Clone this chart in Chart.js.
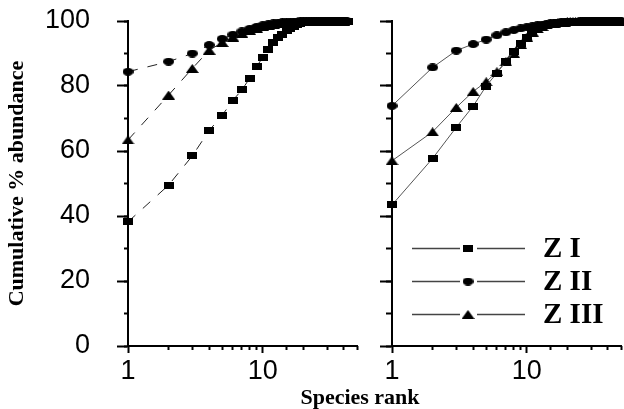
<!DOCTYPE html>
<html>
<head>
<meta charset="utf-8">
<script src="https://cdn.jsdelivr.net/npm/chart.js@4/dist/chart.umd.min.js"></script>
<style>
  html, body { margin: 0; padding: 0; background: #fff; overflow: hidden; width: 624px; height: 409px; }
  #left { position: absolute; left: 0; top: 0; }
  #right { position: absolute; left: 360px; top: 0; }
  #xtitle { position: absolute; left: 260px; width: 200px; top: 386px; text-align: center;
            font: bold 22px "Liberation Serif", "Times New Roman", serif; line-height: 22px; color: #000; }
</style>
</head>
<body>
<canvas id="left" width="370" height="409"></canvas>
<canvas id="right" width="280" height="409"></canvas>
<div id="xtitle">Species rank</div>
<script>
// ---- data ----
const seriesNames = ['Z I', 'Z II', 'Z III'];
const xTickLabels = [1, 10];
const yAxisTitle = 'Cumulative % abundance';

// Left panel: cumulative % abundance by species rank (rank = position + 1)
const leftZI = [38.2,49.5,58.5,66.3,71.0,75.6,78.8,82.4,86.0,88.8,91.3,93.3,94.8,96.0,97.0,97.8,98.4,98.9,99.2,99.4,
                99.5,99.6,99.65,99.7,99.75,99.8,99.82,99.84,99.86,99.88,99.9,99.91,99.92,99.93,99.94,99.95,99.96,99.97,99.98,99.98,
                99.99,99.99,100];
const leftZII = [84.4,87.5,90.0,92.6,94.5,95.8,96.8,97.6,98.2,98.7,99.0,99.3,99.5,99.6,99.7,99.75,99.8,99.84,99.87,99.9,
                 99.92,99.93,99.94,99.95,99.96,99.97,99.97,99.98,99.98,99.99,99.99,99.99,100,100,100,100,100,100,100,100,
                 100,100];
const leftZIII = [63.4,77.2,85.4,91.0,93.4,95.0,96.2,97.1,97.8,98.3,98.7,99.0,99.2,99.4,99.5,99.6,99.68,99.74,99.8,99.84,
                  99.87,99.9,99.92,99.94,99.95,99.96,99.97,99.98,99.98,99.99,99.99,100,100,100,100,100,100,100,100,100];

// Right panel
const rightZI = [43.4,57.7,67.3,73.8,80.0,84.0,87.5,90.5,93.0,95.0,96.5,97.5,98.2,98.7,99.0,99.25,99.4,99.5,99.58,99.65,
                 99.7,99.74,99.78,99.8,99.83,99.85,99.87,99.89,99.9,99.91,99.92,99.93,99.94,99.95,99.96,99.96,99.97,99.97,99.98,99.98,
                 99.98,99.99,99.99,99.99,99.99,100,100,100,100,100];
const rightZII = [73.9,85.7,90.9,92.9,94.3,95.6,96.5,97.2,97.7,98.1,98.4,98.7,98.9,99.1,99.25,99.35,99.45,99.55,99.62,99.68,
                  99.73,99.77,99.8,99.83,99.86,99.88,99.9,99.92,99.93,99.94,99.95,99.96,99.97,99.97,99.98,99.98,99.99,99.99,99.99,100,
                  100,100,100,100,100,100,100,100,100,100];
const rightZIII = [57.0,65.9,73.4,78.3,81.3,84.4,87.4,90.0,92.8,95.0,96.6,97.6,98.3,98.8,99.1,99.35,99.5,99.6,99.68,99.74,
                   99.79,99.83,99.86,99.88,99.9,99.92,99.93,99.94,99.95,99.96,99.97,99.97,99.98,99.98,99.99,99.99,99.99,100,100,100,
                   100,100,100,100,100,100,100,100];

// ---- marker shapes (horizontally stretched, as in the reference) ----
function makeMarker(kind) {
  const c = document.createElement('canvas');
  const g = c.getContext('2d');
  if (kind === 'rect') { c.width = 10; c.height = 7; g.fillStyle = '#000'; g.fillRect(0, 0, 10, 7); }
  else if (kind === 'circle') { c.width = 11; c.height = 8; g.fillStyle = '#000'; g.beginPath(); g.ellipse(5.5, 4, 5.5, 4, 0, 0, Math.PI * 2); g.fill(); }
  else { c.width = 13; c.height = 9; g.fillStyle = '#000'; g.beginPath(); g.moveTo(6.5, 0); g.lineTo(13, 9); g.lineTo(0, 9); g.closePath(); g.fill(); }
  return c;
}
const markers = [makeMarker('rect'), makeMarker('circle'), makeMarker('tri')];

const toPoints = arr => arr.map((v, i) => ({ x: i + 1, y: v }));

function makeDatasets(arrs, dashed) {
  return arrs.map((arr, k) => ({
    label: seriesNames[k],
    data: toPoints(arr),
    borderColor: dashed ? '#222' : '#555',
    borderWidth: 1,
    borderDash: dashed ? [10, 10] : [],
    pointStyle: markers[k],
    pointRadius: 5,
    pointHoverRadius: 5,
    clip: false,
    tension: 0,
    fill: false
  }));
}

const tickFont = { family: '"Liberation Sans", Arial, sans-serif', size: 27 };

function noPad(s) { s.paddingTop = 0; s.paddingBottom = 0; s.paddingLeft = 0; s.paddingRight = 0; }

function makeScales(opts) {
  return {
    y: {
      type: 'linear', position: 'left', weight: 1, min: 0, max: 100,
      ticks: { stepSize: 20, display: opts.labels, color: '#000', font: tickFont, padding: 27 },
      grid: { drawOnChartArea: false, tickLength: opts.yMajor, tickWidth: 2, tickColor: '#000' },
      border: { display: true, color: '#000', width: 2 },
      title: opts.labels ? { display: true, text: yAxisTitle, color: '#000',
        font: { family: '"Liberation Serif", "Times New Roman", serif', size: 22, weight: 'bold' },
        padding: { top: 4, bottom: 4 } } : { display: false },
      afterFit: s => { s.width = opts.yWidth; noPad(s); }
    },
    y2: {
      type: 'linear', position: 'left', weight: 0, min: 0, max: 100,
      ticks: { stepSize: 10, display: false },
      grid: { drawOnChartArea: false, tickLength: opts.yMinor, tickWidth: 2, tickColor: '#000' },
      border: { display: false },
      afterFit: s => { s.width = 0; noPad(s); }
    },
    x: {
      type: 'logarithmic', position: 'bottom', weight: 1, min: 1, max: 50,
      afterBuildTicks: s => { s.ticks = xTickLabels.map(v => ({ value: v })); },
      ticks: { color: '#000', font: tickFont, padding: 2, maxRotation: 0, autoSkip: false,
               callback: v => String(v) },
      grid: { drawOnChartArea: false, tickLength: 7, tickWidth: 2, tickColor: '#000' },
      border: { display: true, color: '#000', width: 2 },
      afterFit: s => { s.height = 63; noPad(s); }
    },
    x2: {
      type: 'logarithmic', position: 'bottom', weight: 0, min: 1, max: 50,
      afterBuildTicks: s => { s.ticks = s.ticks.filter(t => !xTickLabels.includes(t.value) && t.value <= 50); },
      ticks: { display: false },
      grid: { drawOnChartArea: false, tickLength: 4, tickWidth: 2, tickColor: '#000' },
      border: { display: false },
      afterFit: s => { s.height = 0; noPad(s); }
    }
  };
}

const legendPlugin = {
  id: 'panelLegend',
  afterDatasetsDraw(chart) {
    const ctx = chart.ctx;
    const ys = chart.scales.y;
    const rowValues = [30, 20, 10];
    ctx.save();
    seriesNames.forEach((name, k) => {
      const py = Math.round(ys.getPixelForValue(rowValues[k])) + 0.5;
      ctx.strokeStyle = '#444';
      ctx.lineWidth = 1.3;
      ctx.beginPath();
      ctx.moveTo(52, py); ctx.lineTo(100, py);
      ctx.moveTo(117, py); ctx.lineTo(165, py);
      ctx.stroke();
      const m = markers[k];
      ctx.drawImage(m, 108 - m.width / 2, py - m.height / 2);
      ctx.fillStyle = '#000';
      ctx.font = 'bold 29px "Liberation Serif", "Times New Roman", serif';
      ctx.textAlign = 'left';
      ctx.textBaseline = 'middle';
      ctx.fillText(name, 183, py + 1);
    });
    ctx.restore();
  }
};

const common = {
  responsive: false,
  animation: false,
  devicePixelRatio: 1,
  plugins: { legend: { display: false }, tooltip: { enabled: false } },
  events: []
};

new Chart(document.getElementById('left'), {
  type: 'line',
  data: { datasets: makeDatasets([leftZI, leftZII, leftZIII], true) },
  options: Object.assign({}, common, {
    layout: { padding: { top: 21, right: 13, left: 0, bottom: 0 } },
    scales: makeScales({ labels: true, yWidth: 128, yMajor: 11, yMinor: 4 })
  })
});

new Chart(document.getElementById('right'), {
  type: 'line',
  data: { datasets: makeDatasets([rightZI, rightZII, rightZIII], false) },
  options: Object.assign({}, common, {
    layout: { padding: { top: 21, right: 19, left: 0, bottom: 0 } },
    scales: makeScales({ labels: false, yWidth: 32, yMajor: 12, yMinor: 6 })
  }),
  plugins: [legendPlugin]
});
</script>
</body>
</html>
